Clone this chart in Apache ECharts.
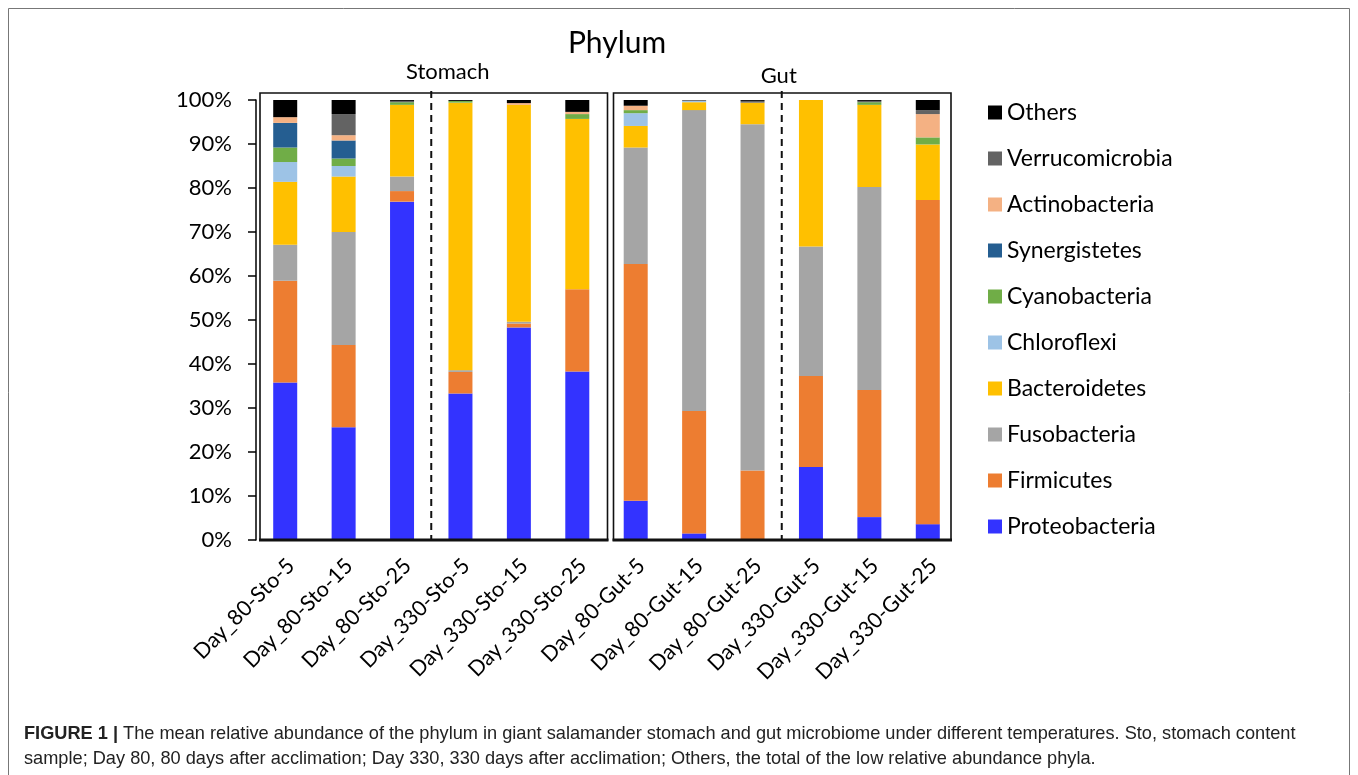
<!DOCTYPE html>
<html><head><meta charset="utf-8">
<script src="https://cdn.jsdelivr.net/npm/echarts@6/dist/echarts.min.js"></script>
<style>html,body{margin:0;padding:0;background:#fff}#c{width:1358px;height:775px}</style>
</head><body><div id="c"></div>
<script>
const categories = ['Day_80-Sto-5','Day_80-Sto-15','Day_80-Sto-25','Day_330-Sto-5','Day_330-Sto-15','Day_330-Sto-25',
  'Day_80-Gut-5','Day_80-Gut-15','Day_80-Gut-25','Day_330-Gut-5','Day_330-Gut-15','Day_330-Gut-25'];
const yTicks = [0,10,20,30,40,50,60,70,80,90,100];
const proteobacteria  = [35.8, 25.6, 76.9, 33.3, 48.3, 38.3, 8.9, 1.5, 0, 16.6, 5.2, 3.6];
const firmicutes      = [23.1, 18.7, 2.4, 4.9, 0.9, 18.7, 53.8, 27.8, 15.8, 20.7, 28.9, 73.7];
const fusobacteria    = [8.2, 25.7, 3.3, 0.4, 0.4, 0, 26.5, 68.4, 78.7, 29.4, 46.1, 0];
const bacteroidetes   = [14.3, 12.6, 16.3, 60.8, 49.3, 38.7, 4.9, 1.8, 4.9, 33.3, 18.7, 12.6];
const chloroflexi     = [4.5, 2.4, 0, 0, 0, 0, 2.9, 0.3, 0, 0, 0, 0];
const cyanobacteria   = [3.3, 1.7, 0.6, 0.4, 0, 1.1, 0.7, 0, 0, 0, 0.6, 1.6];
const synergistetes   = [5.6, 4.1, 0, 0, 0, 0, 0, 0, 0, 0, 0, 0];
const actinobacteria  = [1.3, 1.2, 0, 0, 0.4, 0.5, 1.0, 0, 0, 0, 0, 5.3];
const verrucomicrobia = [0, 4.8, 0.3, 0, 0, 0, 0, 0.2, 0.4, 0, 0.3, 0.9];
const others          = [3.9, 3.2, 0.2, 0.2, 0.7, 2.7, 1.3, 0, 0.2, 0, 0.2, 2.3];

const seriesDefs = [
  ['Proteobacteria', proteobacteria, '#3333FF'],
  ['Firmicutes', firmicutes, '#ED7D31'],
  ['Fusobacteria', fusobacteria, '#A5A5A5'],
  ['Bacteroidetes', bacteroidetes, '#FFC000'],
  ['Chloroflexi', chloroflexi, '#9DC3E6'],
  ['Cyanobacteria', cyanobacteria, '#70AD47'],
  ['Synergistetes', synergistetes, '#255E91'],
  ['Actinobacteria', actinobacteria, '#F4B183'],
  ['Verrucomicrobia', verrucomicrobia, '#636363'],
  ['Others', others, '#000000']
];
const FONT = 'Lato';
const chart = echarts.init(document.getElementById('c'), null, {renderer: 'canvas'});
const option = {
  animation: false,
  backgroundColor: '#fff',
  grid: {left: 256, right: 401, top: 100, bottom: 235, containLabel: false},
  legend: {
    orient: 'vertical', left: 983, top: 96,
    data: seriesDefs.map(d => d[0]).reverse(),
    icon: 'rect', itemWidth: 14, itemHeight: 14, itemGap: 23,
    textStyle: {fontFamily: FONT, fontSize: 23, color: '#000', lineHeight: 23}
  },
  xAxis: {
    type: 'category', data: categories,
    axisLine: {show: false}, axisTick: {show: false},
    axisLabel: {rotate: 45, fontFamily: FONT, fontSize: 21.5, color: '#000', margin: 28, interval: 0,
      padding: [0, -8, 0, 0]}
  },
  yAxis: {
    type: 'value', min: 0, max: 100, interval: 10,
    splitLine: {show: false},
    axisLine: {show: true, lineStyle: {color: '#000', width: 1.5}},
    axisTick: {show: true, inside: false, length: 8, lineStyle: {color: '#000', width: 1.5}},
    axisLabel: {formatter: v => yTicks.includes(v) ? v + '%' : '', fontFamily: FONT, fontSize: 22, color: '#000', margin: 24}
  },
  series: seriesDefs.map(d => ({
    name: d[0], type: 'bar', stack: 'all', data: d[1], barWidth: 24,
    itemStyle: {color: d[2]}
  }))
};
chart.setOption(option);

function px(i) { return chart.convertToPixel({xAxisIndex: 0}, i); }
function py(v) { return chart.convertToPixel({yAxisIndex: 0}, v); }
const cw = px(1) - px(0);
const bnd = k => px(0) - cw / 2 + k * cw;
const yTop = py(101.6), yBot = py(0);
const boxes = [[bnd(0) + 4, bnd(6) + 1], [bnd(6) + 7, bnd(12) - 6]];
const g = [];
boxes.forEach(b => {
  g.push({type: 'rect', shape: {x: b[0], y: yTop, width: b[1] - b[0], height: yBot - yTop},
    style: {fill: null, stroke: '#111', lineWidth: 1.6}, z: 10});
  g.push({type: 'line', shape: {x1: b[0] - 1, y1: yBot, x2: b[1] + 1, y2: yBot},
    style: {stroke: '#111', lineWidth: 3}, z: 11});
});
[bnd(3), bnd(9)].forEach(x => {
  g.push({type: 'line', shape: {x1: x, y1: yTop - 2, x2: x, y2: yBot},
    style: {stroke: '#111', lineWidth: 2, lineDash: [7, 5]}, z: 10});
});
g.push({type: 'text', style: {text: 'Phylum', x: 617, y: 43, align: 'center', verticalAlign: 'middle',
  font: '30px ' + FONT, fill: '#000'}});
g.push({type: 'text', style: {text: 'Stomach', x: (boxes[0][0] + boxes[0][1]) / 2 + 14, y: 72, align: 'center', verticalAlign: 'middle',
  font: '22px ' + FONT, fill: '#000'}});
g.push({type: 'text', style: {text: 'Gut', x: bnd(9) - 3, y: 76, align: 'center', verticalAlign: 'middle',
  font: '22px ' + FONT, fill: '#000'}});
g.push({type: 'rect', shape: {x: 8.5, y: 8.5, width: 1341, height: 820},
  style: {fill: null, stroke: '#777', lineWidth: 1}, z: 0});
g.push({type: 'text', left: 24, top: 721, style: {
  text: '{b|FIGURE 1 |} The mean relative abundance of the phylum in giant salamander stomach and gut microbiome under different temperatures. Sto, stomach content\nsample; Day 80, 80 days after acclimation; Day 330, 330 days after acclimation; Others, the total of the low relative abundance phyla.',
  font: '18.2px "Liberation Sans"', fill: '#222', lineHeight: 25,
  rich: {b: {fontWeight: 'bold', fontSize: 18.2, fontFamily: 'Liberation Sans', fill: '#222', lineHeight: 25}}
}});
chart.setOption({graphic: g});
</script></body></html>
